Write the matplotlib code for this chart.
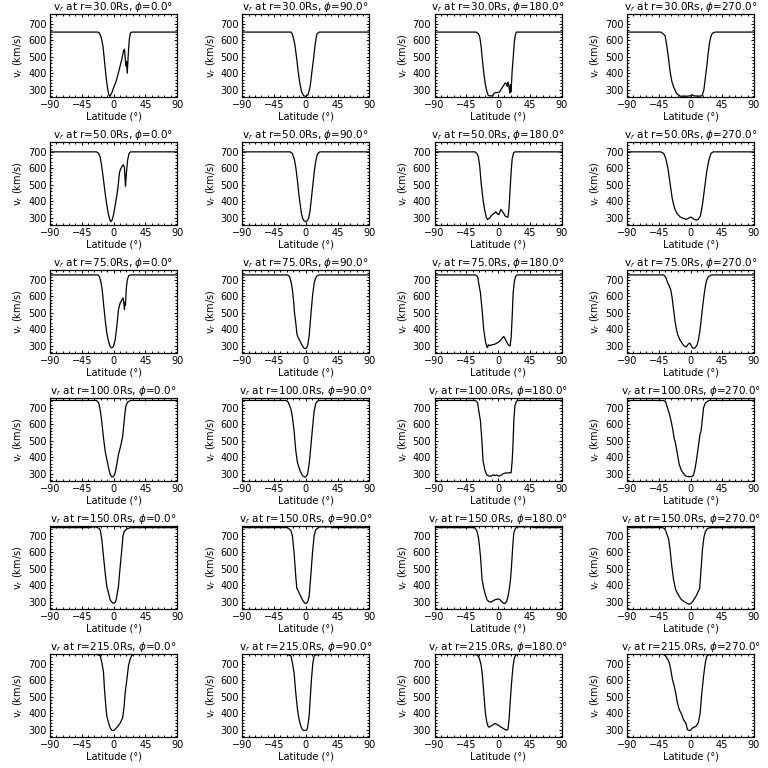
import matplotlib
matplotlib.use("Agg")
import matplotlib.pyplot as plt
from matplotlib.ticker import MultipleLocator

radii = [30.0, 50.0, 75.0, 100.0, 150.0, 215.0]
phis = [0.0, 90.0, 180.0, 270.0]
x_ticks = [-90, -45, 0, 45, 90]
y_ticks = [300, 400, 500, 600, 700]
y_range = [255, 760]

# ---- r = 30 Rs ----
lat_30_0 = [-90, -22, -20, -17.5, -15, -13, -10.4, -8.5, -6.6, -5.2, -2.4, 0, 3.8, 7.6, 11.8, 14.2, 15.6, 17, 18, 18.5, 19.5, 21, 22.5, 24, 26, 90]
v_30_0 = [650, 650, 645, 618, 567, 485, 372, 310, 269, 259, 280, 310, 351, 413, 485, 536, 546, 470, 443, 470, 400, 520, 610, 645, 650, 650]
lat_30_90 = [-90, -21, -19, -15.6, -12.8, -10.9, -8.5, -6.2, -3.3, 0, 3.3, 6.2, 8.5, 10.9, 13.3, 15.6, 19, 90]
v_30_90 = [650, 650, 638, 577, 485, 413, 341, 290, 263, 259, 269, 320, 403, 485, 577, 638, 650, 650]
lat_30_180 = [-90, -31, -28, -26, -24, -22, -20, -18, -16, -14, -12, -8, -6, -4, 0, 2, 4, 7, 10, 12, 13, 14, 15, 16, 17, 17.5, 18, 19, 20, 21.5, 23, 24.5, 26, 90]
v_30_180 = [650, 650, 640, 620, 560, 470, 390, 330, 290, 265, 262, 262, 275, 282, 282, 285, 300, 320, 340, 335, 320, 345, 330, 300, 280, 330, 285, 340, 420, 500, 590, 635, 650, 650]
lat_30_270 = [-90, -42, -39, -36, -33.6, -31, -29, -26.5, -24, -19.4, -14.7, -5, 0, 2, 5, 12, 16, 17, 19, 21, 23, 25, 27, 29, 31, 35, 90]
v_30_270 = [650, 650, 640, 628, 567, 485, 413, 351, 316, 275, 260, 260, 262, 268, 262, 260, 262, 270, 300, 370, 440, 520, 585, 625, 643, 650, 650]

# ---- r = 50 Rs ----
lat_50_0 = [-90, -24, -21, -19, -16.6, -14.2, -11.8, -9.5, -7, -5, -3.8, -2, 0, 3.3, 6.2, 8.5, 10, 12, 14, 15.5, 17, 18, 20, 22, 24, 90]
v_50_0 = [700, 700, 690, 670, 610, 530, 447, 377, 316, 285, 275, 285, 316, 397, 478, 575, 595, 610, 622, 605, 490, 560, 650, 690, 700, 700]
lat_50_90 = [-90, -22, -19, -16, -14, -12, -10, -8, -6, -4, -2, 0, 2, 4, 6, 8, 10, 12, 14, 16, 18, 20, 90]
v_50_90 = [700, 700, 690, 650, 600, 530, 450, 380, 320, 290, 278, 275, 280, 295, 340, 420, 500, 580, 640, 680, 695, 700, 700]
lat_50_180 = [-90, -33, -30, -28, -26, -24, -21.3, -19, -17, -15, -12, -9, -5, -3, -1, 1, 3, 4, 6, 8, 10, 12, 14, 15.5, 17, 18.5, 20, 22, 24, 90]
v_50_180 = [700, 700, 690, 670, 610, 510, 407, 346, 305, 288, 298, 315, 328, 335, 322, 318, 340, 350, 338, 325, 310, 305, 302, 360, 470, 580, 660, 695, 700, 700]
lat_50_270 = [-90, -42, -38, -35, -32, -30, -28, -26, -24, -22, -19, -15, -10, -6, -3, 0, 2, 5, 8, 11, 14, 17, 20, 23, 26, 29, 32, 90]
v_50_270 = [700, 700, 690, 660, 600, 540, 480, 420, 380, 350, 325, 305, 295, 290, 295, 303, 300, 290, 285, 290, 310, 380, 480, 580, 650, 690, 700, 700]

# ---- r = 75 Rs ----
lat_75_0 = [-90, -22, -20, -18, -16, -14.2, -11.8, -9.5, -7, -5, -3, -1, 0, 2.4, 4.7, 7, 9.5, 12, 13.5, 14.5, 15.5, 16, 17, 18, 19.5, 21.5, 24, 90]
v_75_0 = [730, 730, 720, 690, 640, 558, 457, 377, 326, 296, 286, 290, 296, 336, 417, 518, 560, 580, 590, 570, 520, 560, 545, 640, 700, 725, 730, 730]
lat_75_90 = [-90, -26, -23, -21, -19, -17.5, -16, -14.2, -12.5, -11, -8, -5, -2, 0, 2.4, 4.7, 7, 9.5, 11.8, 14, 16, 19, 90]
v_75_90 = [730, 730, 720, 690, 640, 580, 500, 437, 370, 350, 326, 300, 282, 282, 296, 356, 478, 600, 680, 712, 725, 730, 730]
lat_75_180 = [-90, -32, -29, -27.5, -25, -22.7, -20.4, -18, -16, -15, -14, -12, -9, -5, -2, 2, 5, 8, 10, 13, 15, 17, 18.5, 20, 21.3, 23, 25, 27, 90]
v_75_180 = [730, 730, 720, 680, 620, 518, 397, 326, 292, 288, 305, 300, 305, 308, 315, 325, 340, 356, 340, 315, 302, 298, 350, 478, 620, 690, 722, 730, 730]
lat_75_270 = [-90, -38, -35, -33, -30, -28, -26, -24, -22, -20, -18, -15, -12, -9, -6, -3, -1, 1, 3, 6, 9, 11, 13, 15, 17, 19, 21, 23, 26, 30, 90]
v_75_270 = [730, 730, 715, 690, 660, 640, 590, 520, 450, 400, 365, 335, 315, 298, 292, 310, 315, 300, 285, 285, 300, 330, 380, 450, 530, 600, 660, 700, 722, 730, 730]

# ---- r = 100 Rs ----
lat_100_0 = [-90, -24, -21, -19, -17, -14.2, -11.8, -9.5, -7, -4.7, -2.5, -1, 1, 2.4, 4.7, 7, 9.5, 12.8, 14.5, 16, 17.5, 20, 24, 90]
v_100_0 = [745, 745, 730, 690, 630, 518, 437, 387, 336, 296, 280, 280, 290, 306, 356, 417, 457, 520, 590, 660, 710, 735, 745, 745]
lat_100_90 = [-90, -28, -25, -23, -21, -19, -16.6, -14.2, -11.8, -8, -4.7, -2, 0, 2.4, 4.7, 7, 9.5, 11.8, 14, 16, 19, 90]
v_100_90 = [745, 745, 735, 715, 690, 645, 560, 440, 366, 316, 288, 280, 280, 296, 356, 457, 578, 680, 725, 740, 745, 745]
lat_100_180 = [-90, -32, -29, -27.5, -25, -23, -21.3, -19, -16, -13, -10, -7, -4, -2, 1, 4, 7, 9, 11, 14, 18.5, 20, 21.3, 22.5, 24, 26, 28, 90]
v_100_180 = [745, 745, 730, 685, 620, 500, 377, 326, 292, 285, 285, 292, 288, 292, 284, 290, 298, 302, 304, 304, 306, 380, 500, 640, 715, 740, 745, 745]
lat_100_270 = [-90, -38, -35, -32.7, -30, -27, -25, -23, -21.5, -19, -16, -13, -10, -7, -4, 2, 4, 6, 8, 11, 13.5, 15, 16.5, 18.5, 21, 26, 90]
v_100_270 = [745, 745, 735, 700, 665, 610, 565, 510, 490, 430, 356, 320, 300, 286, 282, 282, 290, 320, 370, 460, 540, 560, 620, 700, 730, 745, 745]

# ---- r = 150 Rs ----
lat_150_0 = [-90, -32, -30, -25, -23, -20, -18.5, -16.6, -14.2, -11.8, -9.5, -7, -4.7, -2, 0, 2, 3.8, 7, 9.5, 11.8, 13.5, 15, 17, 20, 25, 90]
v_150_0 = [750, 750, 755, 755, 750, 745, 730, 680, 577, 474, 392, 351, 310, 295, 290, 293, 310, 392, 515, 618, 700, 725, 735, 745, 750, 750]
lat_150_90 = [-90, -26, -23, -21, -19, -16.6, -14.2, -12.8, -10.4, -7, -4.7, -1.4, 1, 2.4, 4.7, 7, 9.5, 11.8, 14, 17, 20, 35, 38, 90]
v_150_90 = [750, 750, 740, 730, 700, 597, 454, 382, 362, 331, 310, 290, 290, 296, 331, 454, 597, 700, 737, 748, 755, 755, 750, 750]
lat_150_180 = [-90, -33, -30, -27.5, -25, -22.7, -20.4, -18, -15.6, -13, -10, -7, -4, 0, 2, 4, 7, 9.5, 12, 14, 16, 17.5, 19, 20.8, 22.3, 24.6, 27, 47, 50, 90]
v_150_180 = [750, 750, 730, 680, 577, 433, 382, 341, 310, 300, 297, 305, 312, 316, 314, 305, 292, 288, 300, 330, 380, 433, 515, 640, 720, 745, 755, 755, 750, 750]
lat_150_270 = [-90, -40, -37, -35, -31, -29, -26.5, -24, -21, -18.5, -13.7, -9, -4.3, -2, 1, 3, 7.6, 11, 13, 15, 17, 19, 21, 24, 28, 90]
v_150_270 = [750, 750, 745, 730, 680, 618, 515, 433, 372, 351, 316, 300, 288, 284, 290, 300, 331, 362, 380, 500, 620, 690, 725, 745, 750, 750]

# ---- r = 215 Rs ----
lat_215_0 = [-90, -26, -22, -19, -16.6, -14.2, -12.8, -10.9, -9.5, -7, -4.7, -2.4, 0, 2.4, 5.7, 9.5, 13, 15, 16.6, 19, 21.3, 23.7, 26, 29, 90]
v_215_0 = [760, 760, 755, 750, 710, 650, 546, 444, 382, 341, 310, 296, 294, 302, 318, 340, 372, 440, 526, 608, 690, 731, 752, 760, 760]
lat_215_90 = [-90, -27, -25, -21, -19, -16.6, -14.2, -11.8, -9.5, -7, -4.7, -3, 0, 1.5, 2.4, 4.7, 6.2, 8, 10, 11.8, 14, 21, 23, 90]
v_215_90 = [760, 760, 755, 748, 706, 645, 523, 422, 361, 320, 300, 295, 295, 300, 310, 381, 483, 605, 706, 747, 755, 757, 760, 760]
lat_215_180 = [-90, -36, -34, -30, -28, -26, -24, -22.5, -21, -19.5, -18, -16, -14, -12.5, -10, -7, -4.5, -2, 1, 4, 7, 10, 12.5, 14, 15.5, 17, 19, 21, 23, 25, 28, 90]
v_215_180 = [760, 760, 757, 755, 745, 725, 690, 640, 560, 480, 400, 345, 318, 315, 322, 330, 337, 332, 325, 315, 308, 300, 296, 302, 360, 460, 580, 680, 735, 752, 760, 760]
lat_215_270 = [-90, -42, -38, -35, -32, -30, -28, -25.6, -23, -21, -18.5, -16, -12.3, -10, -6.6, -4.3, -2, 0, 2.8, 7.6, 11, 13.7, 15.6, 18.5, 21, 23, 26, 33, 35, 90]
v_215_270 = [760, 760, 757, 747, 725, 706, 665, 605, 564, 523, 462, 422, 391, 361, 340, 300, 294, 296, 310, 320, 340, 401, 503, 625, 706, 747, 755, 757, 760, 760]

series = {
    (30.0, 0.0): (lat_30_0, v_30_0), (30.0, 90.0): (lat_30_90, v_30_90),
    (30.0, 180.0): (lat_30_180, v_30_180), (30.0, 270.0): (lat_30_270, v_30_270),
    (50.0, 0.0): (lat_50_0, v_50_0), (50.0, 90.0): (lat_50_90, v_50_90),
    (50.0, 180.0): (lat_50_180, v_50_180), (50.0, 270.0): (lat_50_270, v_50_270),
    (75.0, 0.0): (lat_75_0, v_75_0), (75.0, 90.0): (lat_75_90, v_75_90),
    (75.0, 180.0): (lat_75_180, v_75_180), (75.0, 270.0): (lat_75_270, v_75_270),
    (100.0, 0.0): (lat_100_0, v_100_0), (100.0, 90.0): (lat_100_90, v_100_90),
    (100.0, 180.0): (lat_100_180, v_100_180), (100.0, 270.0): (lat_100_270, v_100_270),
    (150.0, 0.0): (lat_150_0, v_150_0), (150.0, 90.0): (lat_150_90, v_150_90),
    (150.0, 180.0): (lat_150_180, v_150_180), (150.0, 270.0): (lat_150_270, v_150_270),
    (215.0, 0.0): (lat_215_0, v_215_0), (215.0, 90.0): (lat_215_90, v_215_90),
    (215.0, 180.0): (lat_215_180, v_215_180), (215.0, 270.0): (lat_215_270, v_215_270),
}

W = H = 768
fig = plt.figure(figsize=(W / 100, H / 100), dpi=100)
fig.patch.set_facecolor("white")

col_left = [50, 242.3, 434.6, 627]
row_top = [14, 142, 270, 398, 526, 654]
aw, ah = 127, 83
fs = 7

for i, r in enumerate(radii):
    for j, ph in enumerate(phis):
        lat, v = series[(r, ph)]
        ax = fig.add_axes([col_left[j] / W, 1 - (row_top[i] + ah) / H, aw / W, ah / H])
        ax.plot(lat, v, color="black", lw=0.9)
        ax.set_xlim(-90, 90)
        ax.set_ylim(*y_range)
        ax.set_xticks(x_ticks)
        ax.set_yticks(y_ticks)
        ax.xaxis.set_minor_locator(MultipleLocator(9))
        ax.yaxis.set_minor_locator(MultipleLocator(20))
        ax.tick_params(which="both", direction="in", top=True, right=True,
                       labelsize=fs, width=0.7, pad=2.5)
        ax.tick_params(which="major", length=2.5)
        ax.tick_params(which="minor", length=1.3)
        for s in ax.spines.values():
            s.set_linewidth(0.9)
        ax.set_title(f"v$_r$ at r={r:.1f}Rs, $\\phi$={ph:.1f}°", fontsize=fs + 0.5, pad=2)
        ax.set_xlabel("Latitude (°)", fontsize=fs, labelpad=1)
        ax.set_ylabel("v$_r$ (km/s)", fontsize=fs, labelpad=2)

fig.savefig("out.png", dpi=100, facecolor="white")
